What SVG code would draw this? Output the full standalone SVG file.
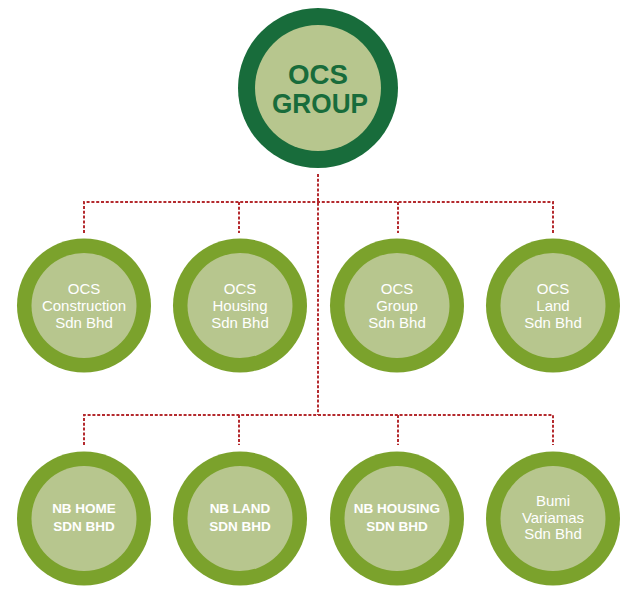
<svg xmlns="http://www.w3.org/2000/svg" width="636" height="596" viewBox="0 0 636 596">
<style>
.bg{fill:#ffffff}
.ring{fill:#7ba22c}
.ringTop{fill:#186c3b}
.inner{fill:#b7c68e}
.conn{fill:none;stroke:#b42a2e;stroke-width:2;stroke-dasharray:3 1.8}
.t{font-family:"Liberation Sans",Arial,sans-serif;font-size:15px;fill:#ffffff;text-anchor:middle}
.tb{font-family:"Liberation Sans",Arial,sans-serif;font-size:13.5px;font-weight:bold;fill:#ffffff;text-anchor:middle}
.top{font-family:"Liberation Sans",Arial,sans-serif;font-size:28px;font-weight:bold;fill:#186c3b;text-anchor:middle}
</style>
<rect class="bg" width="636" height="596"/>
<g id="connectors">
<path class="conn" d="M318 174 V415"/>
<path class="conn" d="M84 233 V202 H553 V233"/>
<path class="conn" d="M239 202 V233"/>
<path class="conn" d="M398 202 V233"/>
<path class="conn" d="M84 445 V415 H553 V445"/>
<path class="conn" d="M239 415 V445"/>
<path class="conn" d="M398 415 V445"/>
</g>
<g id="ocs-group">
<circle class="ringTop" cx="318" cy="88" r="80"/>
<circle class="inner" cx="318" cy="88" r="63"/>
<text class="top" x="318" y="84" textLength="60" lengthAdjust="spacingAndGlyphs">OCS</text>
<text class="top" x="320" y="113" textLength="96" lengthAdjust="spacingAndGlyphs">GROUP</text>
</g>
<g id="ocs-construction">
<circle class="ring" cx="84" cy="305.5" r="67"/>
<circle class="inner" cx="84" cy="305.5" r="52.5"/>
<text class="t" x="84" y="294">OCS</text>
<text class="t" x="84" y="311">Construction</text>
<text class="t" x="84" y="328">Sdn Bhd</text>
</g>
<g id="ocs-housing">
<circle class="ring" cx="240" cy="305.5" r="67"/>
<circle class="inner" cx="240" cy="305.5" r="52.5"/>
<text class="t" x="240" y="294">OCS</text>
<text class="t" x="240" y="311">Housing</text>
<text class="t" x="240" y="328">Sdn Bhd</text>
</g>
<g id="ocs-group-sdn">
<circle class="ring" cx="397" cy="305.5" r="67"/>
<circle class="inner" cx="397" cy="305.5" r="52.5"/>
<text class="t" x="397" y="294">OCS</text>
<text class="t" x="397" y="311">Group</text>
<text class="t" x="397" y="328">Sdn Bhd</text>
</g>
<g id="ocs-land">
<circle class="ring" cx="553" cy="305.5" r="67"/>
<circle class="inner" cx="553" cy="305.5" r="52.5"/>
<text class="t" x="553" y="294">OCS</text>
<text class="t" x="553" y="311">Land</text>
<text class="t" x="553" y="328">Sdn Bhd</text>
</g>
<g id="nb-home">
<circle class="ring" cx="84" cy="518.5" r="67"/>
<circle class="inner" cx="84" cy="518.5" r="52.5"/>
<text class="tb" x="84" y="513">NB HOME</text>
<text class="tb" x="84" y="531">SDN BHD</text>
</g>
<g id="nb-land">
<circle class="ring" cx="240" cy="518.5" r="67"/>
<circle class="inner" cx="240" cy="518.5" r="52.5"/>
<text class="tb" x="240" y="513">NB LAND</text>
<text class="tb" x="240" y="531">SDN BHD</text>
</g>
<g id="nb-housing">
<circle class="ring" cx="397" cy="518.5" r="67"/>
<circle class="inner" cx="397" cy="518.5" r="52.5"/>
<text class="tb" x="397" y="513">NB HOUSING</text>
<text class="tb" x="397" y="531">SDN BHD</text>
</g>
<g id="bumi-variamas">
<circle class="ring" cx="553" cy="518.5" r="67"/>
<circle class="inner" cx="553" cy="518.5" r="52.5"/>
<text class="t" x="553" y="506">Bumi</text>
<text class="t" x="553" y="523">Variamas</text>
<text class="t" x="553" y="539">Sdn Bhd</text>
</g>
</svg>
